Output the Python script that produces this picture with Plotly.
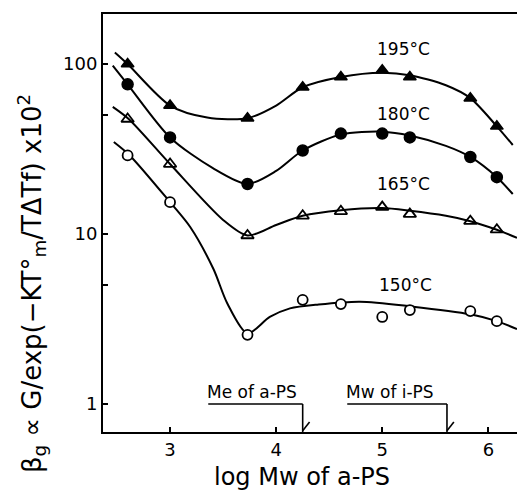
import math
import plotly.graph_objects as go

# ---------------- data ----------------
x_pts = [2.6, 3.0, 3.73, 4.25, 4.61, 5.0, 5.26, 5.83, 6.08]
y195 = [100, 57, 48, 73, 84, 92, 84, 63, 43]
y180 = [76, 37, 19.7, 31, 39, 39, 37, 28.4, 21.6]
y165 = [47.5, 25.8, 9.8, 12.8, 13.6, 14.4, 13.1, 11.9, 10.6]
y150 = [29, 15.4, 2.55, 4.1, 3.87, 3.25, 3.57, 3.52, 3.07]

# smooth curves
cx195 = [2.48, 2.6, 3.0, 3.35, 3.73, 4.0, 4.25, 4.61, 5.0, 5.26, 5.6, 5.83, 6.08, 6.23]
cy195 = [117, 100, 57, 48.5, 48, 57, 73, 84, 89, 86, 75, 63, 43, 33.4]
cx180 = [2.46, 2.6, 3.0, 3.4, 3.73, 4.0, 4.25, 4.61, 5.0, 5.26, 5.6, 5.83, 6.08, 6.23]
cy180 = [98, 76, 37, 24.5, 19.7, 23.5, 31, 38.5, 40, 38, 33, 28.4, 21.6, 17.2]
cx165 = [2.46, 2.61, 3.0, 3.5, 3.73, 4.0, 4.25, 4.61, 5.0, 5.26, 5.6, 5.83, 6.08, 6.27]
cy165 = [56, 47.5, 25.8, 12.1, 9.8, 11.3, 12.8, 13.8, 14.2, 13.7, 12.8, 11.9, 10.6, 9.5]
cx150 = [2.47, 2.62, 3.0, 3.19, 3.41, 3.54, 3.73, 3.94, 4.13, 4.4, 4.79, 5.27, 5.83, 6.08, 6.27]
cy150 = [34.8, 29, 15.4, 11, 6.2, 3.9, 2.6, 3.25, 3.65, 3.85, 4.0, 3.75, 3.37, 3.07, 2.76]

labels = ["195°C", "180°C", "165°C", "150°C"]
label_x = [5.2, 5.2, 5.2, 5.22]
label_y = [122, 51, 19.8, 5.0]

y_ticks = [1, 5, 10, 50, 100]
y_ticktext = ["1", "", "10", "", "100"]
x_ticks = [3, 4, 5, 6]

Me_aPS = 4.25
Mw_iPS = 5.61
marks = [("Me of a-PS", 3.36, Me_aPS), ("Mw of i-PS", 4.67, Mw_iPS)]

# ---------------- figure ----------------
FONT = "DejaVu Sans"
fig = go.Figure()

for cx, cy in [(cx195, cy195), (cx180, cy180), (cx165, cy165), (cx150, cy150)]:
    fig.add_trace(go.Scatter(x=cx, y=cy, mode="lines",
                             line=dict(color="black", width=2, shape="spline", smoothing=0.8),
                             hoverinfo="skip", showlegend=False))

mk = [
    (y195, dict(symbol="triangle-up", size=11, color="black", line=dict(color="black", width=1.5))),
    (y180, dict(symbol="circle", size=11, color="black", line=dict(color="black", width=1.5))),
    (y165, dict(symbol="triangle-up-open", size=11, color="black", line=dict(color="black", width=1.8))),
    (y150, dict(symbol="circle", size=10, color="white", line=dict(color="black", width=1.8))),
]
for ys, m in mk:
    fig.add_trace(go.Scatter(x=x_pts, y=ys, mode="markers", marker=m, showlegend=False))

for t, lx, ly in zip(labels, label_x, label_y):
    fig.add_annotation(x=lx, y=math.log10(ly), text=t, showarrow=False,
                       xanchor="center", yanchor="middle",
                       font=dict(family=FONT, size=17, color="black"))

bar_y = (432 - 404) / 418
for txt, x0, xv in marks:
    fig.add_shape(type="line", xref="x", yref="paper", x0=x0, x1=xv, y0=bar_y, y1=bar_y,
                  line=dict(color="black", width=1.6))
    fig.add_shape(type="line", xref="x", yref="paper", x0=xv, x1=xv, y0=bar_y, y1=0,
                  line=dict(color="black", width=1.6))
    fig.add_shape(type="line", xref="x", yref="paper", x0=xv, x1=xv + 0.065, y0=0.003, y1=0.024,
                  line=dict(color="black", width=1.6))
    fig.add_annotation(x=x0, y=0, text=txt, showarrow=False, xanchor="left", yanchor="bottom",
                       xshift=-3, yshift=0, font=dict(family=FONT, size=17, color="black"))

# axis titles
fig.add_annotation(xref="paper", yref="paper", x=(302 - 103) / 414, y=-(477 - 432) / 418,
                   xanchor="center", yanchor="middle",
                   text="log Mw of a-PS", showarrow=False,
                   font=dict(family=FONT, size=24, color="black"))
fig.add_annotation(xref="paper", yref="paper", x=(32 - 103) / 414, y=(432 - 284) / 418,
                   xanchor="center", yanchor="middle",
                   text="β<sub>g</sub> ∝ G/exp(−KT°<sub>m</sub>/TΔTf) x10<sup>2</sup>",
                   textangle=-90, showarrow=False,
                   font=dict(family=FONT, size=26, color="black"))

fig.update_xaxes(range=[2.368, 6.27], tickvals=x_ticks, ticks="inside", ticklen=5,
                 tickwidth=1.5, tickcolor="black", showline=True, linecolor="black",
                 linewidth=2, mirror=True, showgrid=False, zeroline=False,
                 tickfont=dict(family=FONT, size=18, color="black"))
fig.update_yaxes(type="log", range=[math.log10(0.684), math.log10(197)], tickvals=y_ticks,
                 ticktext=y_ticktext, ticks="inside", ticklen=5, tickwidth=1.5,
                 tickcolor="black", showline=True, linecolor="black", linewidth=2,
                 showgrid=False, zeroline=False,
                 tickfont=dict(family=FONT, size=18, color="black"))

fig.update_layout(width=517, height=490, margin=dict(l=103, r=0, t=14, b=58),
                  plot_bgcolor="white", paper_bgcolor="white")

fig.write_html("out.html")
